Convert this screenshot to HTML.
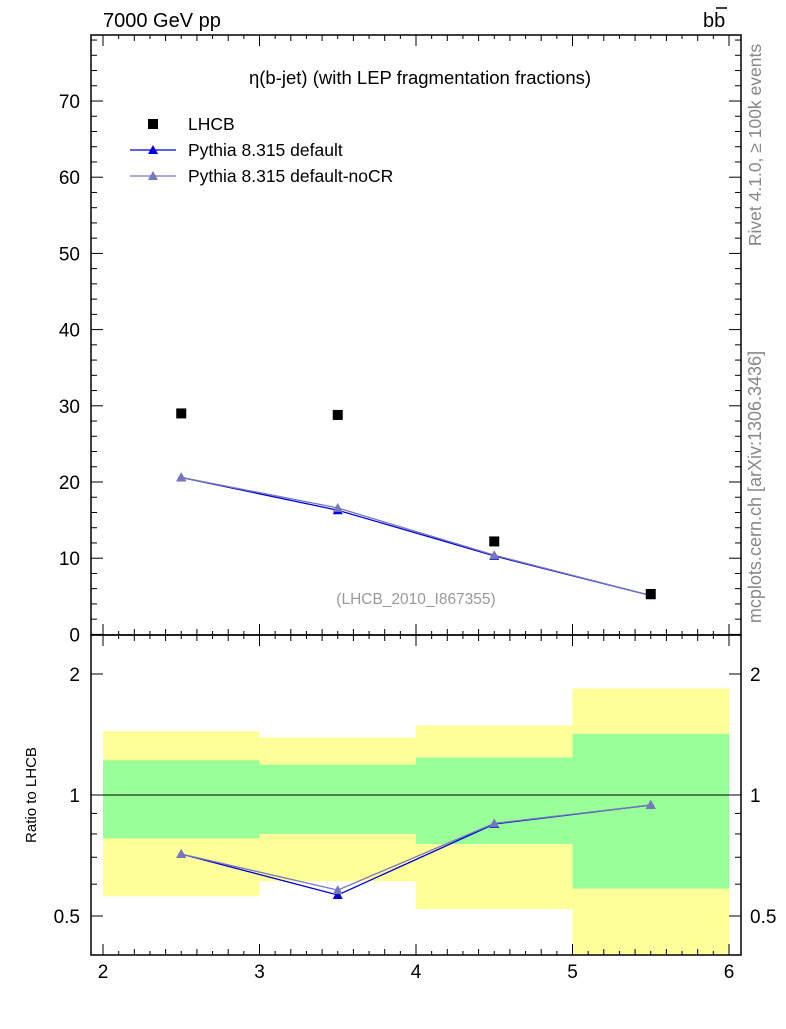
<!DOCTYPE html>
<html><head><meta charset="utf-8"><style>
body{margin:0;background:#fff;}
svg text{font-family:"Liberation Sans",sans-serif;}
</style></head><body>
<svg id="c" width="786" height="1024" xmlns="http://www.w3.org/2000/svg"></svg>
<script>
const xEdges=[2,3,4,5,6];
const xCenters=[2.5,3.5,4.5,5.5];
const lhcb=[29.0,28.8,12.2,5.3];
const pyDefault=[20.6,16.3,10.3,5.1];
const pyNoCR=[20.6,16.6,10.4,5.1];
const ratioDefault=[0.713,0.564,0.847,0.944];
const ratioNoCR=[0.713,0.58,0.85,0.944];
const yellowHi=[1.44,1.39,1.49,1.84];
const yellowLo=[0.56,0.61,0.52,0.35];
const greenHi=[1.22,1.19,1.24,1.42];
const greenLo=[0.78,0.80,0.755,0.585];
const mainTicks=[0,10,20,30,40,50,60,70];
const xTicks=[2,3,4,5,6];
const ratioTicks=[0.5,1,2];

const NS="http://www.w3.org/2000/svg";
const svg=document.getElementById('c');
const L=91,R=741,T=35,M=635,B=955;
const X=v=>103+(v-2)*156.5;
const Y=v=>634.4-v*7.62;
const YR=r=>795-121*Math.log2(r);
function el(tag,attrs,parent){const e=document.createElementNS(NS,tag);for(const k in attrs)e.setAttribute(k,attrs[k]);(parent||svg).appendChild(e);return e;}
function txt(s,attrs){const e=el('text',attrs);e.textContent=s;return e;}

const bands=el('g',{});


for(let i=0;i<4;i++){
 const x0=X(xEdges[i]),x1=X(xEdges[i+1]);
 const yt=Math.max(M,YR(yellowHi[i])),yb=Math.min(B,YR(yellowLo[i]));
 const y=el('rect',{x:x0,y:yt,width:x1-x0,height:yb-yt,fill:'#ffff99'},bands);
 
 
 const gt=YR(greenHi[i]),gb=YR(greenLo[i]);
 const g=el('rect',{x:x0,y:gt,width:x1-x0,height:gb-gt,fill:'#99ff99'},bands);
 
 
}
el('line',{x1:L,x2:R,y1:YR(1),y2:YR(1),stroke:'#000','stroke-width':1});

el('rect',{x:L,y:T,width:R-L,height:M-T,fill:'none',stroke:'#000','stroke-width':1.5});
el('rect',{x:L,y:M,width:R-L,height:B-M,fill:'none',stroke:'#000','stroke-width':1.5});

for(let t=2;t<=6.001;t+=0.1){
 const xx=X(t);const k=Math.round(t*10);
 const len=k%10===0?11:(k%2===0?6:4);
 [[M,-1],[T,1],[B,-1],[M,1]].forEach(([yy,d])=>el('line',{x1:xx,x2:xx,y1:yy,y2:yy+d*len,stroke:'#000'}));
}
xTicks.forEach(v=>{const t=txt(String(v),{x:X(v),y:978,'font-size':19,'text-anchor':'middle'});});
for(let v=0;v<=78;v+=2){const yy=Y(v);const len=v%10===0?12:6;
 el('line',{x1:L,x2:L+len,y1:yy,y2:yy,stroke:'#000'});el('line',{x1:R,x2:R-len,y1:yy,y2:yy,stroke:'#000'});}
mainTicks.forEach(v=>{const t=txt(String(v),{x:80,y:Y(v)+7,'font-size':19,'text-anchor':'end'});});
[0.4,0.5,0.6,0.7,0.8,0.9,1,2].forEach(v=>{const yy=YR(v);const len=(v===0.5||v===1||v===2)?12:6;
 el('line',{x1:L,x2:L+len,y1:yy,y2:yy,stroke:'#000'});el('line',{x1:R,x2:R-len,y1:yy,y2:yy,stroke:'#000'});});
ratioTicks.forEach(v=>{
 const a=txt(String(v),{x:80,y:YR(v)+7,'font-size':19,'text-anchor':'end'});
 const b=txt(String(v),{x:750,y:YR(v)+7,'font-size':19});
});

function tri(x,y,c,parent){return el('path',{d:`M${x-5},${y+4} L${x+5},${y+4} L${x},${y-5} Z`,fill:c},parent);}
function series(vals,fy,c,name){
 const g=el('g',{});
 el('polyline',{points:xCenters.map((x,i)=>X(x)+','+fy(vals[i])).join(' '),fill:'none',stroke:c,'stroke-width':1.3},g);
 xCenters.forEach((x,i)=>tri(X(x),fy(vals[i]),c,g));
}
series(pyDefault,Y,'#0000dd','pythia-default-line');
series(pyNoCR,Y,'#7777bb','pythia-nocr-line');
series(ratioDefault,YR,'#0000dd','ratio-pythia-default');
series(ratioNoCR,YR,'#7777bb','ratio-pythia-nocr');
const dg=el('g',{});
xCenters.forEach((x,i)=>el('rect',{x:X(x)-5,y:Y(lhcb[i])-5,width:10,height:10,fill:'#000'},dg));

function T2(s,a,n){const t=txt(s,a);return t;}
T2('7000 GeV pp',{x:103,y:27,'font-size':20},'energy-label');
T2('bb',{x:703,y:27,'font-size':20},'process-label');
el('line',{x1:716,x2:727,y1:8,y2:8,stroke:'#000','stroke-width':1.5});
T2('η(b-jet) (with LEP fragmentation fractions)',{x:420,y:84,'font-size':18.5,'text-anchor':'middle'},'plot-title');
el('rect',{x:148,y:119,width:10,height:10,fill:'#000'});
T2('LHCB',{x:188,y:130,'font-size':17.5},'legend-lhcb');
el('line',{x1:130,x2:176,y1:150,y2:150,stroke:'#0000dd','stroke-width':1.3});tri(153,150,'#0000dd');
T2('Pythia 8.315 default',{x:188,y:156,'font-size':17.5},'legend-default');
el('line',{x1:130,x2:176,y1:176,y2:176,stroke:'#7777bb','stroke-width':1.3});tri(153,176,'#7777bb');
T2('Pythia 8.315 default-noCR',{x:188,y:182,'font-size':17.5},'legend-nocr');
T2('(LHCB_2010_I867355)',{x:416,y:604,'font-size':15.5,fill:'#999','text-anchor':'middle'},'analysis-id');
T2('Ratio to LHCB',{x:0,y:0,'font-size':15,'text-anchor':'middle',transform:'translate(36,795) rotate(-90)'},'ratio-axis-title');
T2('Rivet 4.1.0, ≥ 100k events',{x:0,y:0,'font-size':17.5,fill:'#888','text-anchor':'middle',transform:'translate(761,145) rotate(-90)'},'rivet-label');
T2('mcplots.cern.ch [arXiv:1306.3436]',{x:0,y:0,'font-size':18,fill:'#888','text-anchor':'middle',transform:'translate(761,487) rotate(-90)'},'mcplots-label');
</script>
</body></html>
